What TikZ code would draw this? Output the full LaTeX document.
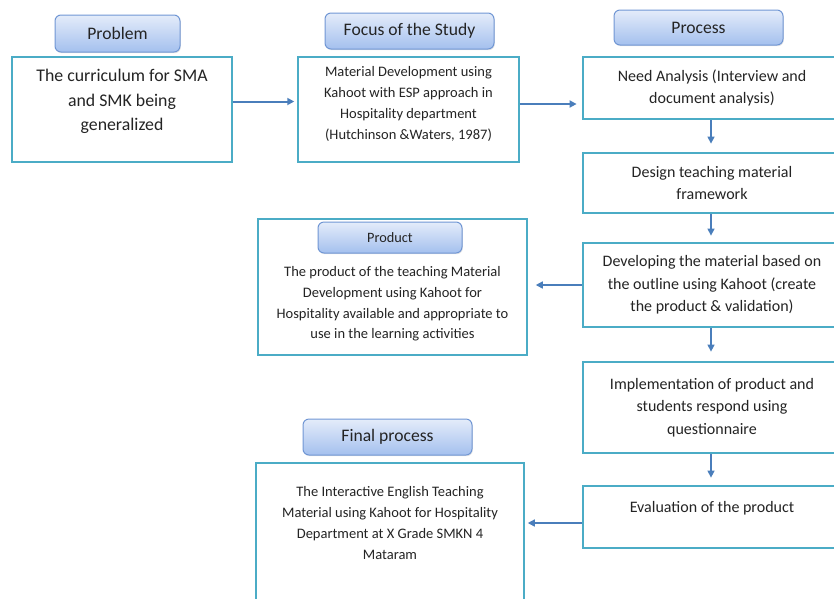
\documentclass[tikz,border=0pt]{standalone}
\usepackage{fontspec}
\setmainfont{Carlito}
\usetikzlibrary{arrows.meta, shadows}
\definecolor{flow-teal}{RGB}{75,172,198}
\definecolor{flow-blue}{RGB}{74,126,187}
\definecolor{flow-top}{RGB}{228,236,250}
\definecolor{flow-bottom}{RGB}{164,192,238}
\definecolor{flow-edge}{RGB}{112,150,212}
\definecolor{flow-text}{RGB}{36,36,36}

\begin{document}
\begin{tikzpicture}[x=1pt, y=-1pt,
  head/.style={draw=flow-edge, line width=1pt, rounded corners=6pt, top color=flow-top, bottom color=flow-bottom, text=flow-text, drop shadow={opacity=0.2, shadow xshift=0.8pt, shadow yshift=-1.2pt}, font=\fontsize{17.6}{20}\selectfont},
  box/.style={draw=flow-teal, line width=1.5pt, fill=white},
  stage/.style={draw=flow-teal, line width=2.8pt, fill=white, align=center, text=flow-text, minimum width=258pt, font=\fontsize{16}{22.5}\selectfont},
  txt/.style={align=center, text=flow-text, inner sep=0pt},
  dep/.style={-{Triangle[length=7pt,width=7pt]}, line width=1.4pt, flow-blue},
]
  \useasboundingbox (0,0) rectangle (834,598);
  \clip (0,0) rectangle (834,598);

  % Problem and focus
  \node[box, minimum width=220pt, minimum height=105pt] (prob) at (122,109.5) {};
  \node[txt, font=\fontsize{17.8}{24.5}\selectfont] (probtxt) at (122,101.5) {The curriculum for SMA\\and SMK being\\generalized};
  \node[head, minimum width=125pt, minimum height=37pt] (probhead) at (117.5,33.5) {Problem};

  \node[box, minimum width=221pt, minimum height=105pt] (focus) at (408.5,109.5) {};
  \node[txt, font=\fontsize{14.5}{21.3}\selectfont] (focustxt) at (408.5,104) {Material Development using\\Kahoot with ESP approach in\\Hospitality department\\(Hutchinson \&Waters, 1987)};
  \node[head, minimum width=169pt, minimum height=36pt] (focushead) at (409.5,31) {Focus of the Study};

  % Process
  \node[head, minimum width=169pt, minimum height=35pt] (prochead) at (698.5,27.5) {Process};
  \node[stage, minimum height=62pt] (need) at (712,88) {Need Analysis (Interview and\\document analysis)};
  \node[stage, minimum height=60pt] (design) at (712,183) {Design teaching material\\framework};
  \node[stage, minimum height=84pt] (develop) at (712,285) {Developing the material based on\\the outline using Kahoot (create\\the product \& validation)};
  \node[stage, minimum height=91pt] (implement) at (712,407.5) {Implementation of product and\\students respond using\\questionnaire};
  \node[stage, minimum height=62pt] (evaluate) at (712,517) {};
  \node[txt, font=\fontsize{16}{22.5}\selectfont] (evaltxt) at (712,508) {Evaluation of the product};

  % Product
  \node[box, minimum width=269pt, minimum height=136pt] (prod) at (392.5,287) {};
  \node[head, minimum width=144pt, minimum height=31pt, font=\fontsize{14.3}{16}\selectfont] (prodhead) at (390,237.5) {Product};
  \node[txt, font=\fontsize{14.5}{20.7}\selectfont] (prodtxt) at (392.5,304) {The product of the teaching Material\\Development using Kahoot for\\Hospitality available and appropriate to\\use in the learning activities};

  % Final process
  \node[box, minimum width=268pt, minimum height=150pt] (final) at (390,538) {};
  \node[txt, font=\fontsize{14.5}{20.7}\selectfont] (finaltxt) at (390,523) {The Interactive English Teaching\\Material using Kahoot for Hospitality\\Department at X Grade SMKN 4\\Mataram};
  \node[head, minimum width=169pt, minimum height=36pt] (finalhead) at (387.5,437) {Final process};

  % Arrows
  \coordinate (spine) at (711,0);
  \draw[dep, line width=2pt, shorten >=3pt] (prob.east |- probtxt) -- (focus.west |- probtxt);
  \draw[dep, line width=2pt, shorten >=5pt] (focus.east |- focustxt) -- (need.west |- focustxt);
  \draw[dep, shorten >=8pt] (need.south -| spine) -- (design.north -| spine);
  \draw[dep, shorten >=6pt] (design.south -| spine) -- (develop.north -| spine);
  \draw[dep, shorten >=9pt] (develop.south -| spine) -- (implement.north -| spine);
  \draw[dep, shorten >=7pt] (implement.south -| spine) -- (evaluate.north -| spine);
  \draw[dep, shorten >=8pt] (develop.west) -- (prod.east |- develop.west);
  \draw[dep, shorten >=3pt] (evaluate.west |- finaltxt) -- (final.east |- finaltxt);
\end{tikzpicture}
\end{document}
